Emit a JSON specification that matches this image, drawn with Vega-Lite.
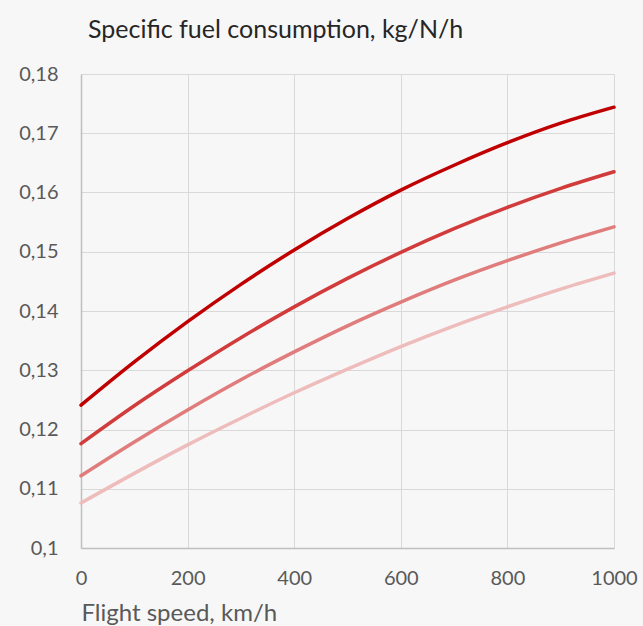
{
  "$schema": "https://vega.github.io/schema/vega-lite/v6.json",
  "width": 533,
  "height": 474,
  "autosize": {"type": "none"},
  "padding": {"left": 81, "top": 74, "right": 29, "bottom": 78},
  "background": "#f7f7f7",
  "title": {
    "text": "Specific fuel consumption, kg/N/h",
    "anchor": "start",
    "frame": "group",
    "dx": 7,
    "offset": 21,
    "font": "Lato",
    "fontSize": 25,
    "fontWeight": "normal",
    "color": "#262626"
  },
  "data": {
    "values": [
      {"s": "A", "v": 0, "c": 0.1241}, {"s": "A", "v": 100, "c": 0.1314}, {"s": "A", "v": 200, "c": 0.1382}, {"s": "A", "v": 300, "c": 0.1445}, {"s": "A", "v": 400, "c": 0.1503}, {"s": "A", "v": 500, "c": 0.1556}, {"s": "A", "v": 600, "c": 0.1604}, {"s": "A", "v": 700, "c": 0.1646}, {"s": "A", "v": 800, "c": 0.1684}, {"s": "A", "v": 900, "c": 0.1717}, {"s": "A", "v": 1000, "c": 0.1744},
      {"s": "B", "v": 0, "c": 0.1176}, {"s": "B", "v": 100, "c": 0.124}, {"s": "B", "v": 200, "c": 0.1299}, {"s": "B", "v": 300, "c": 0.1355}, {"s": "B", "v": 400, "c": 0.1407}, {"s": "B", "v": 500, "c": 0.1455}, {"s": "B", "v": 600, "c": 0.1499}, {"s": "B", "v": 700, "c": 0.1539}, {"s": "B", "v": 800, "c": 0.1575}, {"s": "B", "v": 900, "c": 0.1607}, {"s": "B", "v": 1000, "c": 0.1635},
      {"s": "C", "v": 0, "c": 0.1122}, {"s": "C", "v": 100, "c": 0.1179}, {"s": "C", "v": 200, "c": 0.1233}, {"s": "C", "v": 300, "c": 0.1284}, {"s": "C", "v": 400, "c": 0.1331}, {"s": "C", "v": 500, "c": 0.1375}, {"s": "C", "v": 600, "c": 0.1415}, {"s": "C", "v": 700, "c": 0.1452}, {"s": "C", "v": 800, "c": 0.1485}, {"s": "C", "v": 900, "c": 0.1515}, {"s": "C", "v": 1000, "c": 0.1542},
      {"s": "D", "v": 0, "c": 0.1076}, {"s": "D", "v": 100, "c": 0.1126}, {"s": "D", "v": 200, "c": 0.1174}, {"s": "D", "v": 300, "c": 0.1219}, {"s": "D", "v": 400, "c": 0.1262}, {"s": "D", "v": 500, "c": 0.1302}, {"s": "D", "v": 600, "c": 0.134}, {"s": "D", "v": 700, "c": 0.1375}, {"s": "D", "v": 800, "c": 0.1407}, {"s": "D", "v": 900, "c": 0.1437}, {"s": "D", "v": 1000, "c": 0.1464}
    ]
  },
  "mark": {"type": "line", "interpolate": "monotone", "strokeWidth": 3.5, "strokeCap": "round"},
  "encoding": {
    "x": {
      "field": "v", "type": "quantitative",
      "scale": {"domain": [0, 1000], "nice": false, "zero": false},
      "axis": {
        "values": [0, 200, 400, 600, 800, 1000],
        "format": "d",
        "title": "Flight speed, km/h",
        "titleAnchor": "start", "titleAlign": "left", "titleX": 0, "titleY": 72, "titleBaseline": "alphabetic",
        "titleFont": "Lato", "titleFontSize": 24, "titleFontWeight": "normal", "titleColor": "#595959",
        "labelFont": "Lato", "labelFontSize": 20, "labelColor": "#595959", "labelPadding": 20,
        "labelOverlap": false, "labelFlush": false,
        "ticks": false, "domainColor": "#bfbfbf", "domainWidth": 1.5,
        "grid": true, "gridColor": "#d9d9d9", "gridWidth": 1
      }
    },
    "y": {
      "field": "c", "type": "quantitative",
      "scale": {"domain": [0.1, 0.18], "nice": false, "zero": false},
      "axis": {
        "values": [0.1, 0.11, 0.12, 0.13, 0.14, 0.15, 0.16, 0.17, 0.18],
        "title": null,
        "labelExpr": "replace(format(datum.value, '.2~f'), '.', ',')",
        "labelFont": "Lato", "labelFontSize": 20, "labelColor": "#595959", "labelPadding": 23,
        "labelOverlap": false, "labelFlush": false,
        "ticks": false, "domainColor": "#bfbfbf", "domainWidth": 1.5,
        "grid": true, "gridColor": "#d9d9d9", "gridWidth": 1
      }
    },
    "color": {
      "field": "s", "type": "nominal",
      "scale": {"domain": ["A", "B", "C", "D"], "range": ["#c00000", "#d13b3b", "#e07c7c", "#efbcbc"]},
      "legend": null
    }
  },
  "config": {"view": {"stroke": null}}
}
